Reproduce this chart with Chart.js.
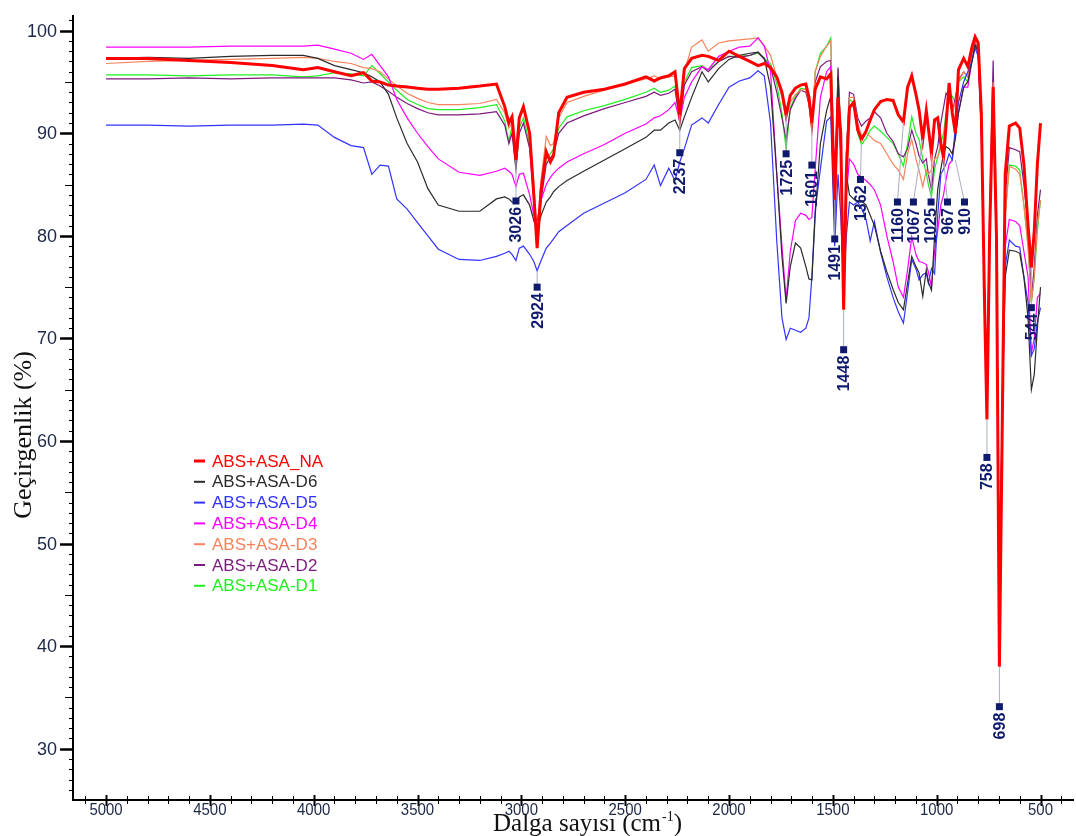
<!DOCTYPE html>
<html>
<head>
<meta charset="utf-8">
<script src="https://cdn.jsdelivr.net/npm/chart.js@4.4.0/dist/chart.umd.min.js"></script>
<style>
  html, body { margin: 0; padding: 0; background: #fff; }
  #wrap { width: 1076px; height: 836px; }
</style>
</head>
<body>
<div id="wrap"><canvas id="ftir" width="1076" height="836"></canvas></div>
<script>
// wavenumber grid (cm-1), shared by every spectrum
const wavenumbers = [
  5000, 4800, 4600, 4400, 4200, 4050, 3980, 3900, 3820, 3760, 3720, 3680, 3640, 3600, 3550, 3500,
  3450, 3400, 3300, 3200, 3120, 3080, 3060, 3045, 3026, 3010, 2990, 2960, 2940, 2924, 2905, 2880,
  2860, 2845, 2820, 2780, 2700, 2600, 2500, 2400, 2360, 2330, 2290, 2260, 2237, 2215, 2180, 2130,
  2100, 2050, 2000, 1950, 1900, 1860, 1830, 1800, 1770, 1745, 1725, 1705, 1680, 1655, 1630, 1615,
  1601, 1585, 1560, 1530, 1510, 1491, 1475, 1462, 1448, 1435, 1420, 1400, 1380, 1362, 1340, 1320,
  1300, 1270, 1240, 1210, 1185, 1160, 1140, 1120, 1100, 1085, 1067, 1050, 1040, 1025, 1010, 995,
  980, 967, 955, 940, 925, 910, 895, 870, 850, 830, 815, 800, 785, 770, 758, 745,
  728, 712, 698, 685, 670, 650, 620, 600, 580, 560, 544, 530, 515, 500
];

const naValues = [
  97.3, 97.3, 97.1, 96.9, 96.6, 96.2, 96.4, 96.0, 95.6, 95.9, 95.1, 95.0, 94.7, 94.6, 94.5, 94.4,
  94.3, 94.3, 94.4, 94.6, 94.8, 92.6, 91.0, 91.6, 87.4, 91.5, 92.6, 90.0, 84.0, 78.8, 84.5, 88.2,
  87.2, 87.8, 92.0, 93.5, 94.0, 94.3, 94.8, 95.5, 95.1, 95.4, 95.6, 96.0, 91.8, 96.3, 97.3, 97.6,
  97.5, 97.1, 98.0, 97.5, 97.0, 96.6, 96.8, 96.4, 95.5, 94.0, 91.8, 93.7, 94.4, 94.7, 94.8, 93.5,
  91.0, 94.3, 95.5, 95.3, 95.8, 83.5, 93.5, 90.0, 72.8, 86.0, 92.5, 93.0, 90.3, 89.4, 90.2, 91.3,
  92.3, 93.1, 93.3, 93.2, 91.8, 91.1, 94.5, 95.6, 93.8, 92.3, 89.4, 92.2, 90.5, 88.0, 91.3, 91.5,
  89.0, 87.6, 90.7, 94.9, 92.0, 90.0, 96.2, 97.3, 96.5, 98.4, 99.4, 98.8, 92.0, 74.0, 62.1, 80.0,
  94.5, 80.0, 38.0, 60.0, 86.0, 90.7, 91.0, 90.5, 87.0, 81.0, 76.9, 80.5, 87.0, 91.0
];

const d6Values = [
  97.3, 97.4, 97.3, 97.5, 97.6, 97.6, 97.3, 96.6, 96.2, 95.9, 95.5, 95.0, 93.8, 91.5, 89.0, 87.2,
  84.6, 83.0, 82.4, 82.4, 83.6, 83.8, 83.6, 83.3, 83.2, 83.8, 84.0, 83.0, 81.5, 80.5, 82.0, 83.3,
  83.8, 84.3, 84.8, 85.4, 86.3, 87.4, 88.5, 89.6, 90.3, 90.3, 91.0, 91.3, 90.3, 91.6, 93.5, 96.0,
  95.0, 96.3, 97.2, 97.6, 97.8, 97.9, 97.3, 94.5, 86.0, 78.0, 73.4, 77.0, 79.3, 78.8, 77.0, 75.8,
  75.7, 82.0, 89.0, 92.2, 93.6, 81.0, 95.5, 88.0, 74.0, 86.0, 84.0, 83.6, 83.4, 83.4, 83.0, 82.0,
  81.0, 78.5, 76.5, 74.8, 73.5, 72.8, 75.4, 78.0, 77.0, 76.4, 74.1, 76.7, 75.5, 74.7, 80.0, 84.5,
  86.5, 88.0, 88.7, 88.5, 88.0, 89.5, 92.0, 94.5, 95.0, 97.0, 98.6, 98.0, 91.0, 75.0, 64.5, 80.0,
  94.0, 80.0, 42.0, 62.0, 76.0, 78.6, 78.5, 78.3, 76.0, 72.0, 65.0, 66.5, 71.0, 75.0
];

const d5Values = [
  90.8, 90.8, 90.7, 90.8, 90.8, 90.9, 90.8, 89.6, 88.8, 88.6, 86.0, 86.9, 86.8, 83.6, 82.6, 81.3,
  80.0, 78.7, 77.7, 77.6, 78.0, 78.3, 78.5, 78.2, 77.6, 78.8, 79.0, 78.2, 77.5, 76.6, 77.6, 78.8,
  79.3, 79.7, 80.4, 81.0, 82.2, 83.2, 84.2, 85.5, 86.9, 84.9, 86.6, 85.4, 87.2, 88.5, 90.8, 91.5,
  91.0, 92.8, 94.5, 95.1, 95.4, 96.1, 95.6, 91.0, 79.5, 72.0, 69.9, 71.0, 70.8, 70.6, 71.0, 72.0,
  76.0, 82.5, 86.5, 91.2, 91.6, 79.0, 86.0, 82.0, 75.0, 80.0, 83.3, 83.0, 83.3, 82.7, 81.6, 79.5,
  81.4, 78.4, 76.0, 74.0, 72.6, 71.5, 74.5, 77.7, 76.8, 75.7, 76.2, 76.4, 75.4, 76.8, 76.3, 82.0,
  86.0, 86.5, 87.0, 88.0, 87.4, 90.5, 93.0, 95.0, 96.0, 97.0, 98.3, 97.5, 90.0, 75.0, 65.0, 80.0,
  93.5, 78.0, 44.0, 62.0, 77.0, 79.6, 79.0, 78.9, 76.0, 73.5, 68.3, 69.0, 71.6, 73.0
];

const d4Values = [
  98.4, 98.4, 98.4, 98.5, 98.5, 98.5, 98.6, 98.2, 97.8, 97.2, 97.7, 96.6, 95.5, 93.3, 91.5, 90.0,
  88.7, 87.5, 86.2, 85.9, 86.3, 86.6, 86.3, 86.0, 84.8, 86.0, 86.1, 84.0, 82.0, 81.5, 83.5, 85.0,
  85.7, 86.1, 86.6, 87.2, 88.0, 88.9, 90.0, 90.9, 91.5, 91.7, 92.3, 93.0, 91.2, 93.5, 95.0, 96.5,
  96.2, 97.5, 98.0, 98.4, 98.5, 99.3, 98.5, 96.0, 86.0, 79.0, 73.8, 78.5, 81.5, 82.2, 82.0, 81.6,
  81.8, 86.5, 93.5, 96.0, 96.5, 84.0, 94.0, 88.0, 75.5, 84.0, 87.5, 87.0, 86.0, 85.7, 85.4, 85.0,
  84.5, 83.0, 80.0, 77.5, 75.0, 74.0, 76.7, 79.9, 78.2, 77.5, 77.4, 77.2, 76.5, 75.0, 78.5, 80.5,
  83.0, 84.0, 85.5, 87.0, 87.4, 89.7, 92.0, 94.5, 94.5, 97.1, 98.6, 97.8, 90.0, 75.0, 64.0, 80.0,
  93.5, 79.0, 43.0, 63.0, 79.0, 81.6, 81.4, 81.0, 78.5, 76.0, 68.6, 70.0, 74.0, 74.4
];

const d3Values = [
  96.8, 97.0, 97.1, 97.2, 97.3, 97.4, 97.3, 97.0, 96.8, 96.4, 96.3, 96.0, 95.3, 94.6, 93.9, 93.4,
  93.0, 92.8, 92.8, 92.9, 93.3, 92.0, 90.5, 91.0, 88.0, 91.3, 92.5, 90.0, 85.0, 80.0, 85.5, 89.7,
  88.8, 89.0, 91.5, 93.0, 93.6, 94.2, 94.8, 95.3, 95.6, 95.3, 95.5, 95.6, 92.3, 96.0, 98.4, 99.1,
  98.0, 98.8, 99.0, 99.1, 99.2, 99.3, 98.5, 97.6, 95.5, 93.5, 91.3, 93.0, 93.8, 94.2, 94.3, 93.0,
  90.7, 96.0, 97.5, 98.5, 99.0, 84.0, 95.0, 90.0, 74.0, 88.0, 93.5, 93.5, 91.0, 89.8, 90.0, 89.7,
  89.3, 89.0, 88.0, 87.0, 86.4, 85.5, 88.0, 89.4, 87.5, 86.4, 84.8, 86.4, 86.0, 86.4, 87.5, 87.7,
  88.5, 89.0, 91.3, 93.5, 92.0, 93.0, 95.0, 96.0, 95.5, 97.5, 98.8, 98.0, 91.0, 75.0, 63.5, 80.0,
  95.0, 80.0, 41.0, 62.0, 82.0, 86.8, 86.5, 86.0, 83.0, 79.0, 73.5, 76.0, 81.0, 83.5
];

const d2Values = [
  95.3, 95.3, 95.4, 95.3, 95.4, 95.4, 95.4, 95.4, 95.2, 94.9, 95.0, 94.6, 94.1, 93.5, 92.9, 92.4,
  92.0, 91.8, 91.8, 91.9, 92.1, 90.8, 89.0, 90.0, 86.5, 90.0, 91.0, 88.5, 83.5, 80.0, 83.5, 87.0,
  87.6, 88.0, 90.0, 91.0, 91.7, 92.4, 93.0, 93.6, 94.0, 93.7, 93.9, 94.3, 91.1, 94.7, 96.0, 96.5,
  96.0, 97.0, 97.5, 97.4, 97.6, 97.9, 97.2, 96.5, 94.0, 91.5, 89.4, 92.3, 93.4, 94.2, 94.0, 92.8,
  90.7, 95.0, 96.5, 97.0, 97.1, 83.5, 96.4, 90.0, 74.0, 88.0, 94.0, 93.8, 91.5, 90.7, 91.2, 91.5,
  92.1, 91.5, 90.0, 89.2, 88.0, 87.7, 88.5, 90.3, 89.0, 87.8, 87.1, 87.5, 86.0, 84.5, 87.5, 88.7,
  91.0, 92.5, 93.9, 93.5, 92.0, 93.5, 95.2, 96.0, 95.5, 97.6, 98.9, 98.0, 91.0, 75.0, 64.0, 82.0,
  97.1, 80.0, 42.0, 62.0, 84.0, 88.6, 88.4, 88.2, 85.0, 81.0, 73.8, 77.0, 82.0, 84.5
];

const d1Values = [
  95.7, 95.7, 95.6, 95.7, 95.7, 95.5, 95.6, 95.9, 95.8, 95.6, 96.6, 95.8, 95.0, 94.2, 93.3, 92.8,
  92.4, 92.3, 92.3, 92.5, 92.8, 91.2, 89.2, 90.7, 86.4, 90.5, 91.5, 89.0, 84.0, 80.0, 84.0, 87.5,
  88.0, 88.5, 90.5, 91.6, 92.2, 92.7, 93.3, 94.0, 94.4, 94.0, 94.2, 94.6, 91.1, 95.0, 96.4, 96.6,
  96.2, 97.0, 97.5, 97.5, 97.6, 97.8, 97.3, 96.8, 94.8, 92.0, 88.4, 92.5, 93.6, 94.4, 94.3, 93.0,
  90.3, 96.0, 97.8, 98.5, 99.3, 83.5, 96.2, 90.0, 74.0, 88.0, 93.3, 93.0, 90.0, 88.9, 89.5, 90.3,
  90.7, 90.2, 89.6, 89.0, 88.0, 86.8, 89.0, 91.6, 90.0, 89.4, 87.5, 86.1, 85.0, 83.8, 86.5, 87.7,
  89.0, 90.0, 92.0, 93.0, 93.6, 93.0, 95.0, 95.5, 95.0, 97.3, 98.8, 98.0, 91.0, 75.0, 63.5, 80.0,
  95.2, 80.0, 41.0, 62.0, 82.0, 86.9, 86.8, 86.4, 83.0, 79.0, 73.5, 76.0, 80.5, 83.5
];

const seriesNames = ['ABS+ASA_NA', 'ABS+ASA-D6', 'ABS+ASA-D5', 'ABS+ASA-D4', 'ABS+ASA-D3', 'ABS+ASA-D2', 'ABS+ASA-D1'];
const seriesColors = ['#ff0000', '#2b2b2b', '#3333ff', '#ff00ff', '#f7835c', '#7d1a7d', '#22ee22'];

const xTickLabels = [5000, 4500, 4000, 3500, 3000, 2500, 2000, 1500, 1000, 500];
const yTickLabels = [30, 40, 50, 60, 70, 80, 90, 100];

// peak annotations: label, where the leader starts, where the marker sits, where the label sits
const peakWn      = [3026, 2924, 2237, 1725, 1601, 1491, 1448, 1362, 1160, 1067, 1025, 967, 910, 758, 698, 544];
const peakTipY    = [87.4, 76.6, 91.8, 91.8, 91.0, 83.5, 72.8, 89.4, 91.1, 89.4, 88.0, 87.6, 87.4, 62.1, 38.0, 76.9];
const peakMarkY   = [83.4, 75.0, 88.1, 88.0, 86.9, 79.7, 68.9, 85.5, 83.3, 83.3, 83.3, 83.3, 83.3, 58.4, 34.1, 73.0];
const peakLabelWn = [3026, 2924, 2237, 1725, 1601, 1491, 1448, 1367, 1189, 1112, 1027, 948, 866, 758, 698, 544];

const toPoints = vals => wavenumbers.map((w, i) => ({x: w, y: vals[i]}));
const allValues = [naValues, d6Values, d5Values, d4Values, d3Values, d2Values, d1Values];

const serif = '"Liberation Serif", "Times New Roman", serif';

const axesPlugin = {
    id: 'ftirAxes',
    afterDraw(chart) {
        const {ctx, chartArea: a, scales: {x, y}} = chart;
        ctx.save();
        ctx.strokeStyle = '#000';
        ctx.lineWidth = 2;
        ctx.beginPath();
        ctx.moveTo(a.left, a.top);
        ctx.lineTo(a.left, a.bottom + 1);
        ctx.lineTo(a.right, a.bottom + 1);
        ctx.stroke();

        // y ticks: every 1, medium at 5, long at 10
        for (let v = Math.ceil(y.min); v <= Math.floor(y.max); v++) {
            const py = Math.round(y.getPixelForValue(v)) + 0.5;
            const major = v % 10 === 0;
            const len = major ? 13 : (v % 5 === 0 ? 8 : 4);
            ctx.lineWidth = major ? 2.5 : 1;
            ctx.beginPath();
            ctx.moveTo(a.left - len, py);
            ctx.lineTo(a.left, py);
            ctx.stroke();
        }
        // x ticks: every 100, crossing the axis
        for (let w = Math.ceil(x.min / 100) * 100; w <= x.max; w += 100) {
            const px = Math.round(x.getPixelForValue(w)) + 0.5;
            const major = w % 500 === 0;
            ctx.lineWidth = major ? 2 : 1;
            ctx.beginPath();
            ctx.moveTo(px, a.bottom + 1 - (major ? 5 : 4));
            ctx.lineTo(px, a.bottom + 1 + (major ? 6 : 4));
            ctx.stroke();
        }

        ctx.fillStyle = '#1d2747';
        ctx.font = '18px "Liberation Sans", Arial, sans-serif';
        ctx.textAlign = 'right';
        ctx.textBaseline = 'middle';
        yTickLabels.forEach(v => ctx.fillText(String(v), a.left - 16, y.getPixelForValue(v) + 1));

        // x labels are a little condensed in the original
        ctx.font = '17px "Liberation Sans", Arial, sans-serif';
        ctx.textAlign = 'center';
        ctx.textBaseline = 'top';
        xTickLabels.forEach(w => {
            ctx.save();
            ctx.translate(x.getPixelForValue(w), a.bottom + 3);
            ctx.scale(0.88, 1);
            ctx.fillText(String(w), 0, 0);
            ctx.restore();
        });

        // axis titles
        ctx.fillStyle = '#111';
        ctx.textBaseline = 'alphabetic';
        const t1 = 'Dalga sayısı (cm', sup = '-1', t2 = ')';
        const mainFont = '25px ' + serif, supFont = '14px ' + serif;
        ctx.font = mainFont;
        const w1 = ctx.measureText(t1).width, w3 = ctx.measureText(t2).width;
        ctx.font = supFont;
        const w2 = ctx.measureText(sup).width;
        const sx = 587 - (w1 + w2 + w3) / 2;
        const by = 831;
        ctx.textAlign = 'left';
        ctx.font = mainFont;
        ctx.fillText(t1, sx, by);
        ctx.font = supFont;
        ctx.fillText(sup, sx + w1 + 1, by - 10);
        ctx.font = mainFont;
        ctx.fillText(t2, sx + w1 + w2 + 1, by);

        ctx.font = '26px ' + serif;
        ctx.translate(31, 435);
        ctx.rotate(-Math.PI / 2);
        ctx.textAlign = 'center';
        ctx.fillText('Geçirgenlik (%)', 0, 0);
        ctx.restore();
    }
};

const peaksPlugin = {
    id: 'peakLabels',
    afterDatasetsDraw(chart) {
        const {ctx, scales: {x, y}} = chart;
        ctx.save();
        peakWn.forEach((wn, i) => {
            const tx = x.getPixelForValue(wn), ty = y.getPixelForValue(peakTipY[i]);
            const mx = x.getPixelForValue(peakLabelWn[i]), my = y.getPixelForValue(peakMarkY[i]);
            ctx.strokeStyle = '#a9adc4';
            ctx.lineWidth = 1;
            ctx.beginPath();
            ctx.moveTo(tx, ty);
            ctx.lineTo(mx, my);
            ctx.stroke();
            ctx.fillStyle = '#0f1a6e';
            ctx.fillRect(mx - 3.5, my - 3.5, 7, 7);
            ctx.save();
            ctx.translate(mx, my + 6);
            ctx.rotate(-Math.PI / 2);
            ctx.font = 'bold 16px "Liberation Sans", Arial, sans-serif';
            ctx.textAlign = 'right';
            ctx.textBaseline = 'middle';
            ctx.fillText(String(wn), 0, 1);
            ctx.restore();
        });
        ctx.restore();
    }
};

const legendPlugin = {
    id: 'insideLegend',
    afterDatasetsDraw(chart) {
        const ctx = chart.ctx;
        ctx.save();
        ctx.font = '17px "Liberation Sans", Arial, sans-serif';
        ctx.textBaseline = 'middle';
        ctx.textAlign = 'left';
        chart.data.datasets.forEach((ds, i) => {
            const ly = 461 + i * 20.8;
            ctx.strokeStyle = ds.borderColor;
            ctx.lineWidth = i === 0 ? 3 : 2;
            ctx.beginPath();
            ctx.moveTo(194, ly);
            ctx.lineTo(205, ly);
            ctx.stroke();
            ctx.fillStyle = ds.borderColor;
            ctx.fillText(ds.label, 212, ly + 1);
        });
        ctx.restore();
    }
};

const chart = new Chart(document.getElementById('ftir'), {
    type: 'line',
    data: {
        datasets: allValues.map((vals, i) => ({
            label: seriesNames[i],
            data: toPoints(vals),
            borderColor: seriesColors[i],
            backgroundColor: seriesColors[i],
            borderWidth: i === 0 ? 3 : 1.2,
            pointRadius: 0,
            tension: 0,
            fill: false
        }))
    },
    options: {
        responsive: false,
        animation: false,
        layout: {padding: {left: 73, right: 2, top: 15, bottom: 37}},
        plugins: {
            legend: {display: false},
            tooltip: {enabled: false}
        },
        scales: {
            x: {type: 'linear', reverse: true, min: 338.7, max: 5159, display: false},
            y: {type: 'linear', min: 25.1, max: 101.53, display: false}
        }
    },
    plugins: [axesPlugin, peaksPlugin, legendPlugin]
});
</script>
</body>
</html>
